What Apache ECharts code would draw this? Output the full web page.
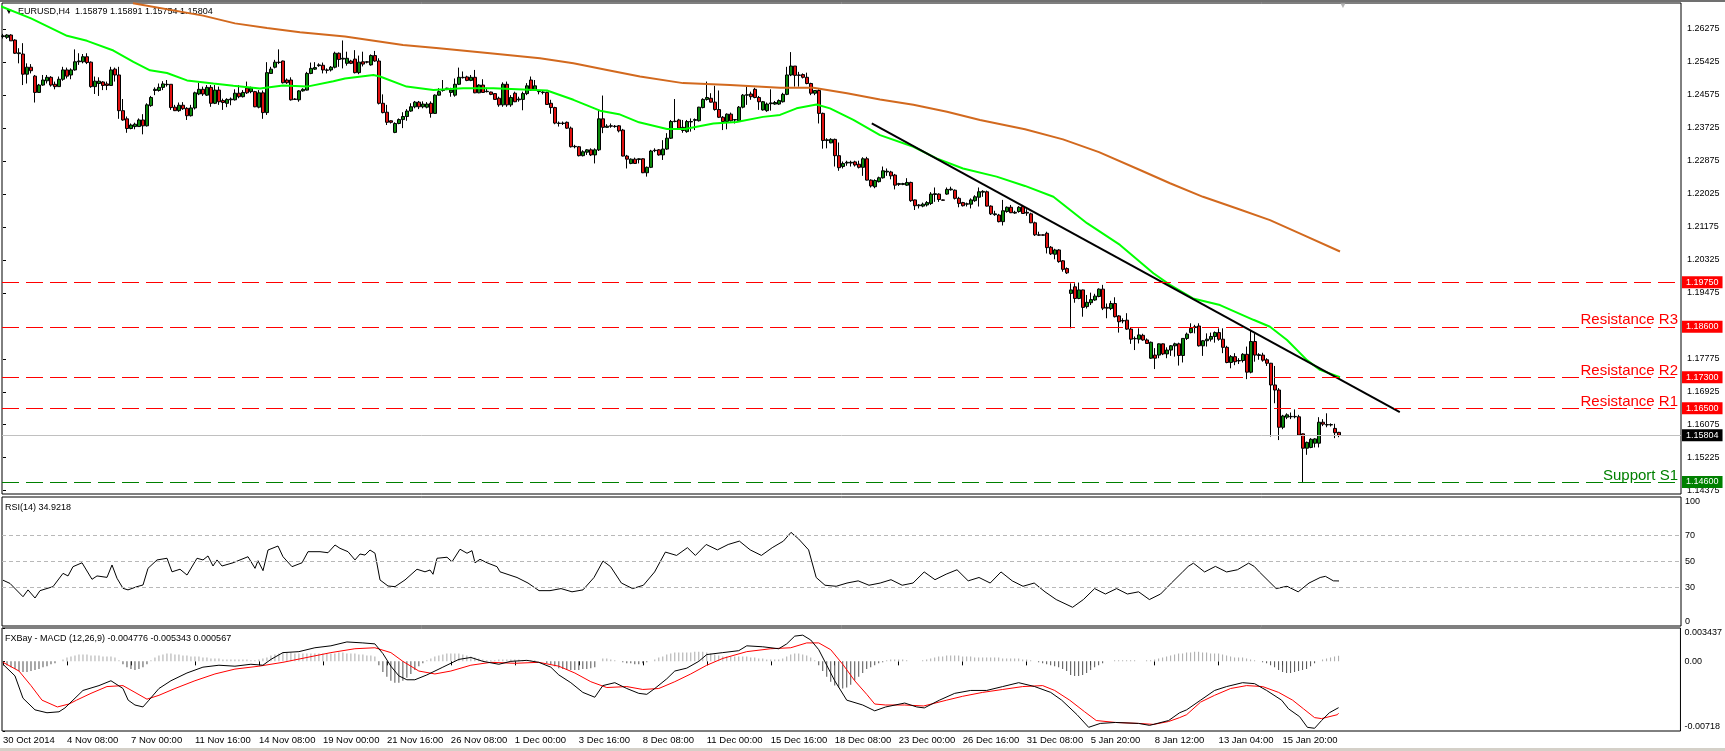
<!DOCTYPE html>
<html><head><meta charset="utf-8">
<script src="https://cdn.jsdelivr.net/npm/echarts@6/dist/echarts.min.js"></script>
<style>html,body{margin:0;padding:0;background:#fff;}#c{width:1725px;height:751px;}</style>
</head><body><div id="c"></div>
<script>
// ---- time axis labels (one every 16 H4 bars, starting at bar 0)
const tickLabels = ['30 Oct 2014','4 Nov 08:00','7 Nov 00:00','11 Nov 16:00','14 Nov 08:00','19 Nov 00:00','21 Nov 16:00','26 Nov 08:00','1 Dec 00:00','3 Dec 16:00','8 Dec 08:00','11 Dec 00:00','15 Dec 16:00','18 Dec 08:00','23 Dec 00:00','26 Dec 16:00','31 Dec 08:00','5 Jan 20:00','8 Jan 12:00','13 Jan 04:00','15 Jan 20:00'];
const priceTicks = [1.26275,1.25425,1.24575,1.23725,1.22875,1.22025,1.21175,1.20325,1.19475,1.17775,1.16925,1.16075,1.15225,1.14375];
const rsiTicks = [0,30,50,70,100];
const macdTicks = [-0.00718,0,0.003437];
// ---- EURUSD H4 candles [open, close, low, high]
const candles = [
[1.2608,1.2610,1.2603,1.2615],[1.2606,1.2612,1.2602,1.2614],[1.2612,1.2597,1.2597,1.2614],[1.2599,1.2565,1.2563,1.2601],[1.2564,1.2566,1.2539,1.2578],
[1.2563,1.2511,1.2483,1.2591],[1.2511,1.2529,1.2487,1.2539],[1.2529,1.2520,1.2513,1.2537],[1.2506,1.2464,1.2438,1.2509],[1.2464,1.2483,1.2463,1.2486],
[1.2483,1.2496,1.2481,1.2509],[1.2494,1.2503,1.2487,1.2509],[1.2503,1.2483,1.2479,1.2506],[1.2485,1.2479,1.2472,1.2492],[1.2479,1.2498,1.2479,1.2505],
[1.2498,1.2522,1.2494,1.2530],[1.2522,1.2506,1.2500,1.2528],[1.2509,1.2522,1.2498,1.2526],[1.2522,1.2543,1.2520,1.2575],[1.2543,1.2545,1.2535,1.2565],
[1.2543,1.2556,1.2539,1.2563],[1.2556,1.2541,1.2537,1.2565],[1.2542,1.2479,1.2476,1.2544],[1.2479,1.2493,1.2460,1.2505],[1.2487,1.2493,1.2455,1.2503],
[1.2491,1.2482,1.2470,1.2493],[1.2486,1.2482,1.2470,1.2492],[1.2482,1.2522,1.2481,1.2530],[1.2524,1.2509,1.2492,1.2528],[1.2509,1.2417,1.2396,1.2530],
[1.2417,1.2393,1.2391,1.2447],[1.2396,1.2371,1.2360,1.2402],[1.2371,1.2380,1.2369,1.2384],[1.2376,1.2382,1.2369,1.2386],[1.2376,1.2393,1.2376,1.2397],
[1.2393,1.2378,1.2356,1.2408],[1.2378,1.2432,1.2376,1.2436],[1.2430,1.2451,1.2427,1.2455],[1.2469,1.2472,1.2457,1.2477],[1.2469,1.2477,1.2466,1.2487],
[1.2477,1.2486,1.2470,1.2493],[1.2484,1.2485,1.2479,1.2496],[1.2485,1.2425,1.2419,1.2485],[1.2426,1.2417,1.2416,1.2432],[1.2417,1.2431,1.2414,1.2438],
[1.2431,1.2422,1.2419,1.2439],[1.2423,1.2404,1.2393,1.2426],[1.2404,1.2424,1.2402,1.2432],[1.2424,1.2463,1.2420,1.2466],[1.2460,1.2472,1.2457,1.2489],
[1.2472,1.2460,1.2455,1.2479],[1.2457,1.2477,1.2455,1.2483],[1.2477,1.2436,1.2427,1.2483],[1.2436,1.2470,1.2434,1.2483],[1.2470,1.2440,1.2432,1.2479],
[1.2443,1.2438,1.2419,1.2448],[1.2436,1.2446,1.2426,1.2449],[1.2445,1.2447,1.2431,1.2451],[1.2445,1.2462,1.2443,1.2472],[1.2462,1.2453,1.2449,1.2483],
[1.2453,1.2464,1.2451,1.2470],[1.2475,1.2463,1.2460,1.2492],[1.2466,1.2475,1.2462,1.2479],[1.2466,1.2427,1.2426,1.2468],[1.2426,1.2463,1.2423,1.2470],
[1.2463,1.2412,1.2396,1.2469],[1.2412,1.2515,1.2406,1.2542],[1.2513,1.2524,1.2512,1.2530],[1.2529,1.2542,1.2526,1.2548],[1.2542,1.2541,1.2537,1.2575],
[1.2545,1.2489,1.2487,1.2546],[1.2496,1.2489,1.2486,1.2500],[1.2496,1.2445,1.2443,1.2503],[1.2447,1.2446,1.2445,1.2449],[1.2445,1.2468,1.2440,1.2470],
[1.2468,1.2472,1.2466,1.2475],[1.2470,1.2513,1.2469,1.2517],[1.2513,1.2526,1.2511,1.2541],[1.2524,1.2528,1.2522,1.2542],[1.2533,1.2535,1.2530,1.2539],
[1.2534,1.2522,1.2513,1.2541],[1.2522,1.2521,1.2513,1.2526],[1.2522,1.2529,1.2518,1.2532],[1.2529,1.2565,1.2526,1.2569],[1.2565,1.2549,1.2530,1.2567],
[1.2550,1.2552,1.2526,1.2598],[1.2539,1.2552,1.2533,1.2569],[1.2545,1.2539,1.2537,1.2548],[1.2550,1.2515,1.2513,1.2573],[1.2515,1.2542,1.2511,1.2559],
[1.2543,1.2537,1.2531,1.2569],[1.2543,1.2542,1.2539,1.2545],[1.2535,1.2559,1.2533,1.2562],[1.2559,1.2545,1.2543,1.2571],[1.2545,1.2436,1.2433,1.2552],
[1.2436,1.2412,1.2410,1.2459],[1.2413,1.2387,1.2380,1.2432],[1.2391,1.2387,1.2384,1.2392],[1.2361,1.2384,1.2359,1.2387],[1.2384,1.2394,1.2382,1.2397],
[1.2394,1.2402,1.2372,1.2413],[1.2402,1.2416,1.2391,1.2421],[1.2416,1.2427,1.2414,1.2436],[1.2427,1.2439,1.2423,1.2442],[1.2439,1.2427,1.2421,1.2442],
[1.2427,1.2434,1.2423,1.2441],[1.2426,1.2434,1.2423,1.2439],[1.2436,1.2410,1.2399,1.2441],[1.2410,1.2457,1.2409,1.2459],[1.2457,1.2466,1.2456,1.2475],
[1.2469,1.2470,1.2466,1.2496],[1.2474,1.2475,1.2470,1.2476],[1.2464,1.2470,1.2453,1.2476],[1.2457,1.2485,1.2453,1.2500],[1.2485,1.2503,1.2483,1.2528],
[1.2503,1.2502,1.2500,1.2518],[1.2504,1.2495,1.2493,1.2507],[1.2495,1.2503,1.2493,1.2509],[1.2503,1.2463,1.2462,1.2522],[1.2463,1.2483,1.2462,1.2485],
[1.2483,1.2464,1.2463,1.2498],[1.2466,1.2467,1.2464,1.2476],[1.2465,1.2459,1.2457,1.2466],[1.2461,1.2446,1.2445,1.2462],[1.2449,1.2432,1.2427,1.2453],
[1.2432,1.2485,1.2427,1.2490],[1.2485,1.2432,1.2427,1.2492],[1.2432,1.2451,1.2427,1.2457],[1.2462,1.2440,1.2439,1.2466],[1.2445,1.2447,1.2440,1.2453],
[1.2446,1.2461,1.2418,1.2466],[1.2461,1.2481,1.2457,1.2488],[1.2496,1.2470,1.2468,1.2505],[1.2470,1.2481,1.2469,1.2496],[1.2466,1.2467,1.2459,1.2470],
[1.2464,1.2465,1.2459,1.2468],[1.2464,1.2433,1.2432,1.2466],[1.2436,1.2425,1.2409,1.2445],[1.2425,1.2385,1.2382,1.2427],[1.2384,1.2385,1.2376,1.2389],
[1.2385,1.2384,1.2380,1.2389],[1.2387,1.2372,1.2370,1.2389],[1.2372,1.2324,1.2322,1.2376],[1.2324,1.2325,1.2320,1.2329],[1.2324,1.2301,1.2299,1.2326],
[1.2301,1.2311,1.2299,1.2315],[1.2310,1.2316,1.2303,1.2318],[1.2316,1.2303,1.2300,1.2320],[1.2303,1.2316,1.2281,1.2320],[1.2316,1.2396,1.2313,1.2419],
[1.2396,1.2374,1.2359,1.2456],[1.2374,1.2377,1.2373,1.2382],[1.2378,1.2377,1.2373,1.2384],[1.2377,1.2376,1.2373,1.2380],[1.2378,1.2365,1.2361,1.2380],
[1.2367,1.2300,1.2299,1.2370],[1.2300,1.2292,1.2268,1.2303],[1.2281,1.2292,1.2279,1.2294],[1.2292,1.2281,1.2280,1.2296],[1.2291,1.2293,1.2281,1.2294],
[1.2293,1.2257,1.2256,1.2294],[1.2257,1.2271,1.2247,1.2273],[1.2271,1.2313,1.2269,1.2316],[1.2315,1.2314,1.2310,1.2320],[1.2316,1.2303,1.2301,1.2318],
[1.2303,1.2318,1.2290,1.2341],[1.2318,1.2346,1.2316,1.2359],[1.2346,1.2389,1.2344,1.2393],[1.2390,1.2389,1.2387,1.2447],[1.2393,1.2372,1.2370,1.2396],
[1.2374,1.2366,1.2360,1.2393],[1.2363,1.2389,1.2360,1.2393],[1.2388,1.2389,1.2363,1.2397],[1.2392,1.2394,1.2367,1.2397],[1.2391,1.2426,1.2389,1.2427],
[1.2425,1.2446,1.2423,1.2449],[1.2446,1.2451,1.2443,1.2492],[1.2449,1.2439,1.2438,1.2462],[1.2439,1.2420,1.2417,1.2481],[1.2420,1.2400,1.2398,1.2469],
[1.2400,1.2389,1.2367,1.2403],[1.2389,1.2408,1.2369,1.2410],[1.2408,1.2391,1.2389,1.2412],[1.2393,1.2394,1.2384,1.2395],[1.2391,1.2426,1.2389,1.2429],
[1.2426,1.2457,1.2423,1.2460],[1.2457,1.2458,1.2432,1.2479],[1.2460,1.2453,1.2445,1.2466],[1.2472,1.2451,1.2449,1.2476],[1.2451,1.2440,1.2419,1.2455],
[1.2419,1.2440,1.2417,1.2442],[1.2417,1.2434,1.2414,1.2438],[1.2435,1.2437,1.2417,1.2472],[1.2434,1.2438,1.2432,1.2442],[1.2434,1.2443,1.2432,1.2446],
[1.2440,1.2459,1.2438,1.2463],[1.2459,1.2509,1.2457,1.2530],[1.2509,1.2532,1.2506,1.2568],[1.2532,1.2508,1.2479,1.2532],[1.2508,1.2509,1.2479,1.2517],
[1.2510,1.2503,1.2500,1.2513],[1.2503,1.2487,1.2485,1.2515],[1.2487,1.2462,1.2457,1.2489],[1.2462,1.2469,1.2457,1.2470],[1.2469,1.2410,1.2384,1.2472],
[1.2410,1.2340,1.2319,1.2412],[1.2340,1.2342,1.2320,1.2346],[1.2334,1.2343,1.2333,1.2346],[1.2343,1.2301,1.2273,1.2345],[1.2301,1.2270,1.2262,1.2335],
[1.2273,1.2281,1.2268,1.2286],[1.2282,1.2284,1.2275,1.2288],[1.2282,1.2284,1.2273,1.2288],[1.2285,1.2277,1.2273,1.2288],[1.2279,1.2271,1.2268,1.2288],
[1.2271,1.2293,1.2249,1.2297],[1.2293,1.2238,1.2237,1.2298],[1.2238,1.2223,1.2219,1.2240],[1.2221,1.2237,1.2217,1.2240],[1.2234,1.2244,1.2232,1.2247],
[1.2244,1.2262,1.2242,1.2273],[1.2259,1.2261,1.2249,1.2268],[1.2259,1.2249,1.2240,1.2262],[1.2251,1.2225,1.2214,1.2254],[1.2227,1.2229,1.2223,1.2231],
[1.2227,1.2229,1.2225,1.2231],[1.2225,1.2232,1.2223,1.2243],[1.2232,1.2185,1.2182,1.2234],[1.2187,1.2172,1.2161,1.2188],[1.2172,1.2174,1.2165,1.2176],
[1.2171,1.2176,1.2168,1.2180],[1.2174,1.2180,1.2170,1.2184],[1.2178,1.2202,1.2174,1.2207],[1.2201,1.2203,1.2182,1.2219],[1.2202,1.2188,1.2182,1.2204],
[1.2187,1.2186,1.2185,1.2188],[1.2202,1.2214,1.2200,1.2219],[1.2213,1.2215,1.2211,1.2221],[1.2212,1.2191,1.2188,1.2214],[1.2191,1.2178,1.2168,1.2195],
[1.2180,1.2172,1.2170,1.2182],[1.2176,1.2177,1.2170,1.2180],[1.2176,1.2187,1.2165,1.2191],[1.2185,1.2195,1.2182,1.2199],[1.2194,1.2208,1.2170,1.2219],
[1.2207,1.2209,1.2195,1.2212],[1.2208,1.2171,1.2170,1.2211],[1.2171,1.2151,1.2148,1.2173],[1.2149,1.2151,1.2146,1.2159],[1.2148,1.2131,1.2129,1.2151],
[1.2131,1.2159,1.2121,1.2187],[1.2157,1.2168,1.2154,1.2170],[1.2168,1.2154,1.2153,1.2174],[1.2153,1.2155,1.2151,1.2159],[1.2157,1.2168,1.2154,1.2171],
[1.2170,1.2152,1.2151,1.2174],[1.2155,1.2153,1.2146,1.2163],[1.2151,1.2128,1.2127,1.2154],[1.2128,1.2097,1.2094,1.2131],[1.2097,1.2096,1.2094,1.2105],
[1.2097,1.2096,1.2095,1.2098],[1.2101,1.2064,1.2049,1.2105],[1.2065,1.2048,1.2045,1.2068],[1.2047,1.2058,1.2034,1.2061],[1.2058,1.2028,1.2025,1.2060],
[1.2030,1.2008,1.2002,1.2032],[1.2010,1.1999,1.1996,1.2013],[1.1946,1.1955,1.1856,1.1972],[1.1963,1.1933,1.1922,1.1972],[1.1933,1.1955,1.1931,1.1974],
[1.1955,1.1910,1.1886,1.1956],[1.1912,1.1923,1.1907,1.1942],[1.1922,1.1930,1.1916,1.1948],[1.1929,1.1939,1.1927,1.1945],[1.1938,1.1957,1.1936,1.1959],
[1.1957,1.1908,1.1903,1.1968],[1.1910,1.1908,1.1882,1.1920],[1.1907,1.1920,1.1903,1.1927],[1.1920,1.1886,1.1884,1.1936],[1.1888,1.1873,1.1845,1.1890],
[1.1876,1.1875,1.1869,1.1882],[1.1877,1.1854,1.1852,1.1895],[1.1854,1.1828,1.1816,1.1859],[1.1829,1.1830,1.1800,1.1835],[1.1828,1.1839,1.1817,1.1856],
[1.1838,1.1826,1.1824,1.1842],[1.1826,1.1817,1.1816,1.1830],[1.1779,1.1820,1.1777,1.1822],[1.1787,1.1779,1.1751,1.1805],[1.1787,1.1816,1.1779,1.1817],
[1.1816,1.1790,1.1787,1.1817],[1.1790,1.1800,1.1779,1.1807],[1.1800,1.1811,1.1785,1.1813],[1.1811,1.1816,1.1783,1.1819],[1.1816,1.1786,1.1760,1.1819],
[1.1786,1.1830,1.1768,1.1830],[1.1830,1.1841,1.1826,1.1845],[1.1845,1.1856,1.1843,1.1869],[1.1858,1.1860,1.1843,1.1865],[1.1862,1.1811,1.1809,1.1869],
[1.1811,1.1824,1.1785,1.1826],[1.1824,1.1828,1.1809,1.1843],[1.1828,1.1835,1.1822,1.1845],[1.1835,1.1845,1.1819,1.1848],[1.1845,1.1828,1.1824,1.1856],
[1.1828,1.1807,1.1792,1.1856],[1.1807,1.1768,1.1766,1.1811],[1.1768,1.1783,1.1753,1.1787],[1.1783,1.1770,1.1761,1.1792],[1.1772,1.1773,1.1764,1.1779],
[1.1773,1.1789,1.1768,1.1792],[1.1789,1.1743,1.1725,1.1809],[1.1743,1.1822,1.1740,1.1852],[1.1822,1.1787,1.1770,1.1843],[1.1786,1.1788,1.1775,1.1792],
[1.1787,1.1774,1.1770,1.1793],[1.1775,1.1766,1.1759,1.1779],[1.1766,1.1710,1.1577,1.1767],[1.1710,1.1697,1.1663,1.1759],[1.1697,1.1601,1.1568,1.1702],
[1.1601,1.1630,1.1596,1.1633],[1.1627,1.1633,1.1622,1.1637],[1.1628,1.1629,1.1622,1.1639],[1.1628,1.1629,1.1624,1.1647],[1.1628,1.1581,1.1579,1.1633],
[1.1584,1.1547,1.1459,1.1585],[1.1547,1.1562,1.1530,1.1564],[1.1549,1.1570,1.1547,1.1573],[1.1560,1.1571,1.1549,1.1573],[1.1560,1.1614,1.1549,1.1627],
[1.1614,1.1609,1.1604,1.1622],[1.1607,1.1608,1.1601,1.1637],[1.1607,1.1608,1.1603,1.1611],[1.1598,1.1587,1.1573,1.1610],[1.15879,1.15804,1.15754,1.15891]
];
// ---- moving averages: [bar, price]
const maFast = [[-0.75,1.2687],[7,1.2655],[16,1.2610],[21,1.2597],[27.6,1.2572],[32.6,1.2543],[36.75,1.2521],[41,1.2514],[46,1.2495],[52.6,1.2487],[57.6,1.2481],[64.25,1.2474],[70,1.2482],[76,1.2479],[82.6,1.2493],[85.5,1.2500],[92.6,1.2509],[94.25,1.2505],[100.9,1.2479],[107.6,1.2470],[115,1.2475],[122.6,1.2475],[136,1.2469],[142.6,1.2445],[149.25,1.2417],[154,1.2408],[159,1.2387],[166,1.2370],[170.5,1.2370],[177.6,1.2384],[183.4,1.2388],[190,1.2401],[194.25,1.2406],[198.4,1.2423],[203.4,1.2433],[206.75,1.2423],[212.6,1.2393],[219.25,1.2354],[227.6,1.2324],[233.4,1.2294],[240,1.2268],[248.4,1.2247],[255.5,1.2223],[262.6,1.2195],[271,1.2127],[279.25,1.2071],[287.6,1.1998],[291.75,1.1968],[297.5,1.1933],[304.25,1.1916],[312.6,1.1878],[316.75,1.1860],[321,1.1826],[326,1.1774],[329.25,1.1749],[334.25,1.1730]];
const maSlow = [[32.5,1.2694],[50,1.2662],[58,1.2642],[66,1.2630],[74.25,1.2619],[85.5,1.2608],[100,1.2586],[109,1.2578],[121.75,1.2565],[134.25,1.2552],[142.6,1.2539],[151,1.2522],[159.25,1.2505],[170,1.2488],[181.75,1.2483],[194.25,1.2476],[202.6,1.2476],[211,1.2462],[219.25,1.2446],[227.6,1.2432],[236,1.2414],[244.25,1.2393],[255.5,1.2369],[265,1.2343],[274,1.2310],[284.25,1.2264],[291.75,1.2230],[300,1.2195],[308.5,1.2165],[316.75,1.2135],[325,1.2097],[334.25,1.2054]];
const trendLine = [[217.2,1.2384],[349.2,1.1640]];
// ---- horizontal levels
const levelValues = [1.1975,1.1860,1.1730,1.1650,1.1460];
const levelNames  = ['','Resistance R3','Resistance R2','Resistance R1','Support S1'];
const levelKinds  = ['res','res','res','res','sup'];
const lastPrice = 1.15804;
// ---- RSI(14): [bar, value]
const rsi = [[0,35.5],[1.75,33],[5,22.7],[6.25,28],[8,21.7],[9.25,27.4],[12.5,30.5],[15,40.8],[16.25,38.8],[17.5,46],[19.75,49],[22.25,36.2],[23.5,38.8],[26,37.7],[27.25,47.3],[28.5,37],[30,29.2],[31.25,28],[33.5,30.5],[35,31.8],[36.25,44.7],[38.5,51.2],[41,52.5],[42.25,42],[44.25,44],[46,39.5],[48.5,52.5],[50,51.2],[51.25,54.3],[52.5,46.5],[53.5,51.2],[54.75,46.5],[57.5,49],[59.25,51.2],[61.25,53.7],[63,44.7],[63.75,50.6],[65,42.9],[66.25,58.9],[68.75,62],[70,53.7],[72.25,46],[74.75,49],[76.25,57.6],[79.25,57.6],[81.25,56.8],[83,62.8],[84.25,60.2],[86.25,57.6],[88,51.2],[89.25,55.8],[90.5,55],[91.75,58.9],[93,56.4],[94.25,35.7],[96.25,31],[98,30.5],[100.5,35.7],[103.5,44],[105.5,42],[106.75,43.4],[107.5,40.1],[108.5,52.5],[111,53.3],[112.25,49.8],[114.25,59.5],[116,56.4],[117.25,58.4],[118,49],[119.25,51.7],[121,49],[123.5,46],[124.25,42],
[128.5,37.6],[131.25,33.3],[134,27.4],[136.75,27.4],[139.5,29],[142.25,26.5],[145,28],[147.75,37.6],[150,50.4],[151.9,46],[154.6,33.3],[157.4,29],[160.1,31.6],[162.9,41.9],[165.6,57.3],[168.4,54.7],[171.1,60.7],[173.1,54.7],[175.8,63.2],[178.6,59],[181.3,63.2],[184.1,65.8],[186.8,59],[189.6,54.7],[192.3,60.7],[195.1,65.8],[197,72.6],[198.9,67.5],[201.4,59],[203.3,37.6],[205.5,31.6],[208.3,30.8],[211,33.3],[213.8,35],[216.5,31.6],[219.3,33.3],[222,35.9],[224.8,31.6],[227.5,33.3],[230.3,41.9],[233,35.9],[235.8,40.2],[238.5,43.6],[241.3,35],[244,37.6],[246.8,33.3],[249.5,41.9],[252.3,35],[255,30.8],[257.8,33.3],[260.5,26.5],[263.3,20.5],[267.4,14.5],[270.1,20.5],[272.9,29],[275.6,24.8],[278.4,29],[281.1,24.8],[283.9,26.5],[286.6,20.5],[289.4,24.8],[292.1,33.3],[294.9,41.9],[296.3,46.2],[297.6,48.7],[300.4,41.9],[303.1,46.2],[305.9,41.9],[308.6,43.6],[311.4,48.7],[312.8,46.2],[314.1,41.9],[315.5,37.6],[318.3,29],[321,30.8],[323.8,26.5],[326.5,33.3],[329.3,37.6],[330.6,38.5],[332.6,35],[334,34.92]];
// ---- MACD (12,26,9): main and signal, [bar, value]
const macdMain = [[0,-0.0003],[3,-0.0015],[5,-0.0038],[8,-0.0050],[11,-0.0053],[14,-0.0052],[15.5,-0.0048],[17.5,-0.0040],[20,-0.0030],[24,-0.0025],[27,-0.0020],[30,-0.0028],[31.3,-0.0040],[33,-0.0045],[35,-0.0047],[36.5,-0.0040],[39,-0.0028],[42,-0.0020],[46,-0.0012],[50,-0.0006],[54,-0.0004],[58,-0.0005],[62,-0.0003],[65,-0.0004],[67,0.0002],[70,0.0009],[74,0.0010],[78,0.0014],[82,0.0016],[86,0.0020],[90,0.0019],[93,0.0018],[95,0.0008],[97,-0.0005],[99,-0.0015],[101,-0.0019],[103,-0.0019],[106,-0.0014],[110,-0.0006],[114,0.0002],[117,0.0004],[120,0.0000],[124,-0.0003],[127,0.0000],[131,0.0001],[134,-0.0001],[137,-0.0006],[139,-0.0014],[142,-0.0022],[145,-0.0032],[148,-0.0037],[150,-0.0025],[153,-0.0022],[156,-0.0028],[159,-0.0033],[161,-0.0034],[163,-0.0028],[166,-0.0018],[168,-0.0010],[171,-0.0007],[174,0.0000],[176,0.0007],[180,0.0009],[184,0.0011],[186,0.0016],[190,0.0015],[194,0.0013],[196,0.0018],[198,0.0026],[200,0.0027],[202,0.0022],[204,0.0012],[206,-0.0004],[208,-0.0020],[211,-0.0040],[215,-0.0045],[218,-0.0051],[220.75,-0.0047],[225.5,-0.0043],[228.5,-0.0047],[230.4,-0.0048],[234.2,-0.0040],[238,-0.0033],[242,-0.0030],[246,-0.0030],[250,-0.0026],[254,-0.0022],[258,-0.0026],[262,-0.0032],[264.75,-0.0040],[268.6,-0.0055],[271.5,-0.0068],[274.4,-0.0064],[278.2,-0.0063],[284,-0.0064],[286.75,-0.0066],[291.5,-0.0061],[294.25,-0.0053],[296,-0.0050],[299.5,-0.0040],[303,-0.0030],[306,-0.0026],[310,-0.0022],[313,-0.0023],[316,-0.0030],[319.75,-0.0040],[321.5,-0.0049],[324.25,-0.0057],[326.2,-0.0068],[328,-0.0069],[329.75,-0.0061],[331.7,-0.0053],[334,-0.004776]];
const macdSignal = [[0,-0.0001],[4,-0.0010],[7,-0.0025],[9.75,-0.0040],[13.6,-0.0047],[16.5,-0.0044],[18.4,-0.0040],[22,-0.0033],[26,-0.0026],[30,-0.0025],[33,-0.0032],[36,-0.0039],[39,-0.0035],[43,-0.0028],[48,-0.0020],[53,-0.0013],[58,-0.0008],[64,-0.0005],[70,-0.0001],[76,0.0004],[82,0.0009],[88,0.0013],[93,0.0014],[97,0.0009],[100,0.0000],[104,-0.0010],[108,-0.0013],[112,-0.0010],[117,-0.0004],[122,-0.0001],[128,-0.0002],[134,-0.0001],[139,-0.0005],[143,-0.0012],[147,-0.0021],[151,-0.0027],[156,-0.0026],[160,-0.0029],[164,-0.0028],[168,-0.0021],[172,-0.0013],[176,-0.0004],[180,0.0003],[186,0.0010],[192,0.0013],[197,0.0014],[201,0.0019],[204,0.0019],[207,0.0012],[210,-0.0003],[213,-0.0020],[216,-0.0034],[218,-0.0044],[220.75,-0.0045],[225.5,-0.0045],[230.25,-0.0046],[236,-0.0040],[240,-0.0036],[245,-0.0032],[250,-0.0029],[255,-0.0026],[260,-0.0025],[263,-0.0030],[266.75,-0.0040],[270.5,-0.0052],[273.4,-0.0061],[278.2,-0.0063],[284,-0.0064],[287.75,-0.0065],[291.5,-0.0062],[294.25,-0.0058],[296,-0.0055],[299.5,-0.0042],[303,-0.0035],[307,-0.0028],[311,-0.0025],[315,-0.0026],[319,-0.0032],[322.5,-0.0040],[325.25,-0.0049],[328,-0.0058],[329.75,-0.0059],[333.7,-0.0055],[334,-0.005343]];
// ---- MACD histogram, one value per bar (bar 0 .. 334)
const macdHist = [
-0.0002,-0.0004,-0.0006,-0.0008,-0.0010,
-0.0011,-0.0011,-0.0010,-0.0009,-0.0008,-0.0006,-0.0005,-0.0003,-0.0002,
0.0000,0.0002,0.0004,0.0005,0.0006,0.0007,0.0007,0.0007,0.0006,0.0006,0.0006,0.0005,0.0005,0.0005,0.0004,
0.0001,-0.0003,-0.0006,-0.0008,-0.0009,-0.0008,-0.0006,-0.0003,
0.0001,0.0004,0.0006,0.0007,0.0008,0.0008,0.0007,0.0007,0.0006,0.0006,0.0005,0.0005,0.0005,0.0004,0.0004,0.0003,0.0003,0.0003,0.0002,0.0002,0.0002,0.0002,0.0002,0.0002,0.0002,0.0001,0.0001,0.0002,0.0003,0.0004,
0.0006,0.0007,0.0008,0.0009,0.0009,0.0009,0.0008,0.0008,0.0008,0.0008,0.0008,0.0008,0.0008,0.0008,0.0008,0.0008,0.0008,0.0009,0.0009,0.0008,0.0008,0.0008,0.0007,0.0007,0.0006,0.0006,0.0005,
-0.0004,-0.0011,-0.0016,-0.0020,-0.0022,-0.0022,-0.0020,-0.0017,-0.0013,-0.0009,
-0.0005,-0.0002,0.0001,0.0003,0.0005,0.0006,0.0007,0.0008,0.0008,0.0008,0.0008,0.0007,0.0006,0.0005,0.0004,0.0003,0.0002,0.0001,0.0001,0.0001,0.0002,0.0002,0.0002,0.0002,0.0002,0.0002,0.0001,0.0001,0.0001,0.0001,0.0000,0.0000,
-0.0002,-0.0003,-0.0005,-0.0007,-0.0008,-0.0009,-0.0009,-0.0009,-0.0009,-0.0008,-0.0008,-0.0007,-0.0006,
0.0000,0.0003,0.0003,0.0002,0.0001,0.0000,-0.0001,-0.0002,-0.0002,-0.0003,-0.0003,-0.0002,-0.0001,0.0000,0.0002,0.0004,0.0005,
0.0007,0.0008,0.0009,0.0009,0.0009,0.0009,0.0009,0.0010,0.0010,0.0010,0.0009,0.0008,0.0007,0.0006,0.0005,0.0005,0.0005,0.0005,0.0005,0.0005,0.0005,0.0004,0.0004,0.0003,0.0003,0.0002,0.0002,0.0002,0.0002,0.0003,0.0005,0.0007,0.0008,0.0008,0.0007,0.0006,0.0004,
0.0001,-0.0004,-0.0010,-0.0016,-0.0021,-0.0025,-0.0027,-0.0028,-0.0027,-0.0024,-0.0020,-0.0016,-0.0012,-0.0008,
-0.0006,-0.0004,-0.0002,-0.0001,0.0001,0.0002,0.0002,0.0002,0.0002,0.0001,0.0000,0.0000,0.0000,0.0001,0.0002,0.0003,0.0004,0.0005,0.0005,0.0006,0.0006,0.0006,0.0006,0.0005,0.0005,0.0005,0.0004,0.0004,0.0004,0.0004,0.0004,0.0004,0.0004,0.0003,0.0003,0.0003,0.0003,0.0003,0.0002,0.0002,0.0001,0.0000,-0.0001,-0.0002,-0.0003,-0.0004,
-0.0005,-0.0006,-0.0008,-0.0010,-0.0014,-0.0015,-0.0015,-0.0014,-0.0012,-0.0009,-0.0006,-0.0004,-0.0002,
0.0000,0.0000,0.0001,0.0001,0.0001,0.0001,0.0001,0.0001,0.0000,0.0000,0.0001,0.0001,0.0002,0.0003,0.0004,0.0005,0.0006,0.0007,0.0008,0.0008,0.0009,0.0009,0.0010,0.0010,0.0009,0.0009,0.0008,0.0008,0.0008,0.0007,0.0006,0.0005,0.0004,0.0004,0.0004,0.0003,0.0002,0.0001,0.0000,-0.0001,-0.0002,
-0.0004,-0.0006,-0.0009,-0.0011,-0.0012,-0.0012,-0.0011,-0.0010,-0.0009,-0.0008,-0.0005,-0.0002,0.0000,0.0002,0.0003,0.0004,0.0005,0.000567
];

const FONT = 'Liberation Sans';
const X_MIN = -0.25, X_MAX = 419.5;
const RED = '#ff0000', GREEN = '#008000';

const levelLines = [], levelTexts = [];
levelValues.forEach((v, i) => {
  const col = levelKinds[i] === 'sup' ? GREEN : RED;
  levelLines.push({yAxis: v, lineStyle: {color: col, type: [17, 7], width: 1},
    label: {show: true, position: 'end', distance: 1, formatter: v.toFixed(5), color: '#fff',
      backgroundColor: col, padding: [2, 4, 1, 4], fontSize: 9, fontFamily: FONT}});
  if (levelNames[i]) {
    levelTexts.push({yAxis: v, label: {show: true, position: 'insideEndTop', distance: [3, -1],
      formatter: levelNames[i], color: col, fontSize: 15, fontFamily: FONT}});
  }
});
levelLines.push({yAxis: lastPrice, lineStyle: {color: '#c0c0c0', type: 'solid', width: 1},
  label: {show: true, position: 'end', distance: 1, formatter: lastPrice.toFixed(5), color: '#fff',
    backgroundColor: '#000', padding: [2, 4, 1, 4], fontSize: 9, fontFamily: FONT}});

const chart = echarts.init(document.getElementById('c'), null, {renderer: 'canvas'});
const hiddenX = (g) => ({type: 'value', gridIndex: g, min: X_MIN, max: X_MAX, show: false});
chart.setOption({
  animation: false,
  backgroundColor: '#fff',
  textStyle: {fontFamily: FONT},
  grid: [
    {left: 2, top: 3, width: 1679, height: 491, show: true, borderColor: '#000', borderWidth: 1, backgroundColor: '#fff'},
    {left: 2, top: 497, width: 1679, height: 129, show: true, borderColor: '#000', borderWidth: 1},
    {left: 2, top: 628, width: 1679, height: 103, show: true, borderColor: '#000', borderWidth: 1}
  ],
  xAxis: [hiddenX(0), hiddenX(1), {
    type: 'value', gridIndex: 2, min: X_MIN, max: X_MAX,
    axisLine: {show: false}, splitLine: {show: false},
    axisTick: {show: true, length: 4, lineStyle: {color: '#000'}, customValues: tickLabels.map((_, i) => i * 16)},
    axisLabel: {show: true, align: 'left', margin: 4, fontSize: 9.5, color: '#000', fontFamily: FONT,
      customValues: tickLabels.map((_, i) => i * 16), formatter: v => tickLabels[Math.round(v / 16)] || ''}
  }],
  yAxis: [
    {type: 'value', gridIndex: 0, position: 'right', min: 1.14290, max: 1.26945, scale: true,
      axisLine: {show: false}, splitLine: {show: false},
      axisTick: {show: true, length: 3, lineStyle: {color: '#000'}, customValues: priceTicks},
      axisLabel: {show: true, margin: 6, fontSize: 9, color: '#000', fontFamily: FONT, customValues: priceTicks, formatter: v => v.toFixed(5)}},
    {type: 'value', gridIndex: 1, position: 'right', min: 0, max: 100,
      axisLine: {show: false}, splitLine: {show: false}, axisTick: {show: false},
      axisLabel: {show: true, margin: 4, fontSize: 9, color: '#000', fontFamily: FONT, customValues: rsiTicks,
        verticalAlignMaxLabel: 'top', verticalAlignMinLabel: 'bottom', formatter: v => String(v)}},
    {type: 'value', gridIndex: 2, position: 'right', min: -0.00718, max: 0.003437,
      axisLine: {show: false}, splitLine: {show: false},
      axisTick: {show: true, length: 2, lineStyle: {color: '#000'}, customValues: macdTicks},
      axisLabel: {show: true, margin: 4, fontSize: 9, color: '#000', fontFamily: FONT, customValues: macdTicks,
        verticalAlignMaxLabel: 'top', verticalAlignMinLabel: 'bottom',
        formatter: v => v === 0 ? '0.00' : (v > 0 ? '0.003437' : '-0.00718')}}
  ],
  series: [
    {type: 'candlestick', xAxisIndex: 0, yAxisIndex: 0, barWidth: 3,
      data: candles.map((c, i) => [i, c[0], c[1], c[2], c[3]]), encode: {x: 0, y: [1, 2, 3, 4]},
      itemStyle: {color: '#0b8a0b', color0: '#e01010', borderColor: '#000', borderColor0: '#000', borderWidth: 1}},
    {type: 'line', xAxisIndex: 0, yAxisIndex: 0, data: maSlow, symbol: 'none', lineStyle: {color: '#d2691e', width: 2}},
    {type: 'line', xAxisIndex: 0, yAxisIndex: 0, data: maFast, symbol: 'none', lineStyle: {color: '#00ff00', width: 2}},
    {type: 'line', xAxisIndex: 0, yAxisIndex: 0, data: trendLine, symbol: 'none', lineStyle: {color: '#000', width: 2}},
    {type: 'line', xAxisIndex: 0, yAxisIndex: 0, data: [], clip: false,
      markLine: {silent: true, precision: 6, symbol: ['none', 'none'], animation: false, data: levelLines}},
    {type: 'line', xAxisIndex: 0, yAxisIndex: 0, data: [], clip: false,
      markLine: {silent: true, precision: 6, symbol: ['none', 'none'], animation: false,
        lineStyle: {color: 'rgba(0,0,0,0)', width: 1, type: 'solid'}, data: levelTexts}},
    {type: 'line', xAxisIndex: 1, yAxisIndex: 1, data: rsi, symbol: 'none', lineStyle: {color: '#000', width: 1},
      markLine: {silent: true, precision: 2, symbol: ['none', 'none'], label: {show: false},
        lineStyle: {color: '#b8b8b8', type: [4, 3], width: 1}, data: [{yAxis: 70}, {yAxis: 50}, {yAxis: 30}]}},
    {type: 'bar', xAxisIndex: 2, yAxisIndex: 2, barWidth: 1, data: macdHist.map((v, i) => [i, v]),
      itemStyle: {color: p => p.value[1] < 0 ? '#505050' : '#a8a8a8'}},
    {type: 'line', xAxisIndex: 2, yAxisIndex: 2, data: macdSignal, symbol: 'none', lineStyle: {color: '#ff0000', width: 1}},
    {type: 'line', xAxisIndex: 2, yAxisIndex: 2, data: macdMain, symbol: 'none', lineStyle: {color: '#000', width: 1}}
  ],
  graphic: [
    {type: 'rect', left: 0, top: 0, shape: {width: 1725, height: 2}, style: {fill: '#707070'}, silent: true},
    {type: 'rect', left: 0, top: 748, shape: {width: 1725, height: 3}, style: {fill: '#d4d0c8'}, silent: true},
    {type: 'text', left: 5, top: 8, style: {text: '▼', font: '8px ' + FONT, fill: '#000'}},
    {type: 'text', left: 1339, top: 2, style: {text: '▼', font: '8px ' + FONT, fill: '#b4b4b4'}},
    {type: 'text', left: 18, top: 7, style: {text: 'EURUSD,H4  1.15879 1.15891 1.15754 1.15804', font: '9px ' + FONT, fill: '#000'}},
    {type: 'text', left: 5, top: 503, style: {text: 'RSI(14) 34.9218', font: '9px ' + FONT, fill: '#000'}},
    {type: 'text', left: 5, top: 634, style: {text: 'FXBay - MACD (12,26,9) -0.004776 -0.005343 0.000567', font: '9px ' + FONT, fill: '#000'}}
  ]
});
</script></body></html>
